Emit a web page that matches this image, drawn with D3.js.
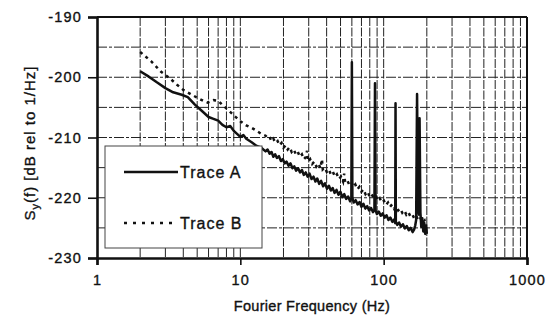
<!DOCTYPE html>
<html>
<head>
<meta charset="utf-8">
<script src="https://cdn.jsdelivr.net/npm/d3@7"></script>
<style>
  body { margin: 0; background: #fff; }
  svg text { font-family: "Liberation Sans", Arial, sans-serif; fill: #111; stroke: #111; stroke-width: 0.35px; }
</style>
</head>
<body>
<svg id="chart" width="555" height="326"></svg>
<script>
// tick labels
var xTicks = [1, 10, 100, 1000];
var yTicks = [-190, -200, -210, -220, -230];
var yGrid = [-195, -200, -205, -210, -215, -220, -225];
var seriesNames = ['Trace A', 'Trace B'];

// Trace A (solid) : frequency (Hz), level (dB)
var traceA = [
  [2.0, -199.0], [2.3, -199.9], [2.6, -200.8], [3.0, -201.8], [3.4, -202.5],
  [3.9, -202.9], [4.3, -203.3], [4.8, -204.5], [5.4, -205.6], [6.0, -206.6],
  [6.5, -206.9], [7.0, -207.2], [7.5, -207.9], [8.0, -208.3], [8.5, -208.1],
  [9.0, -208.9], [10.0, -209.9], [10.5, -209.6], [11.0, -210.2], [12.0, -210.8],
  [13.0, -211.4], [14.0, -211.7], [15.0, -212.3], [15.5, -212.0], [16.0, -212.7],
  [16.5, -212.4], [17.0, -213.2], [17.5, -212.8], [18.0, -213.4], [18.6, -213.1],
  [19.2, -213.9], [19.8, -213.6], [20.4, -214.3], [21.0, -214.0], [21.7, -214.7],
  [22.4, -214.3], [23.1, -215.1], [23.8, -214.8], [24.5, -215.5], [25.3, -215.1],
  [26.1, -215.8], [26.9, -215.4], [27.7, -216.2], [28.6, -215.8], [29.5, -216.5],
  [30.4, -216.0], [31.4, -216.9], [32.4, -216.5], [33.4, -217.3], [34.4, -216.8],
  [35.5, -217.7], [36.6, -217.2], [37.8, -218.1], [39.0, -217.6], [40.2, -218.5],
  [41.5, -218.0], [42.8, -218.8], [44.1, -218.4], [45.5, -219.2], [46.9, -218.7],
  [48.4, -219.5], [49.9, -219.0], [51.5, -219.9], [53.1, -219.4], [54.8, -220.2],
  [56.5, -219.8], [58.3, -220.6], [59.5, -220.1], [60.0, -197.5], [60.5, -220.0],
  [61.9, -220.8], [63.8, -220.4], [65.8, -221.1], [67.9, -220.7], [70.0, -221.5],
  [72.2, -221.0], [74.5, -221.8], [76.8, -221.4], [79.2, -222.1], [81.7, -221.7],
  [84.3, -222.4], [86.2, -222.0], [87.0, -201.0], [87.8, -222.1], [89.7, -222.7],
  [92.5, -222.3], [95.4, -223.0], [98.4, -222.6], [101.5, -223.3], [104.7, -222.9],
  [108.0, -223.7], [111.4, -223.3], [114.9, -224.0], [118.5, -223.6], [120.4, -224.2],
  [121.0, -204.3], [121.6, -224.0], [124.2, -224.5], [128.1, -224.1], [132.1, -224.8],
  [136.3, -224.4], [140.6, -225.1], [145.0, -224.7], [149.6, -225.4], [154.3, -225.0],
  [159.2, -225.7], [163.0, -225.3], [166.0, -224.6], [168.5, -223.7], [171.0, -202.8],
  [173.5, -221.5], [176.0, -222.8], [178.0, -206.8], [180.5, -222.5], [183.0, -224.8],
  [186.0, -223.4], [189.0, -225.6], [192.0, -224.2], [195.0, -226.0], [198.0, -224.6],
  [200.0, -226.0]
];

// Trace B (dotted) : frequency (Hz), level (dB)
var traceB = [
  [2.0, -195.8], [2.4, -197.4], [2.8, -199.1], [3.2, -200.1], [3.6, -201.2],
  [4.0, -202.1], [4.5, -202.8], [5.0, -203.4], [5.5, -203.9], [5.9, -204.2],
  [6.5, -203.8], [7.0, -203.9], [7.5, -204.6], [8.2, -205.4], [9.0, -206.3],
  [10.0, -207.3], [11.0, -208.0], [12.0, -208.4], [13.0, -208.9], [14.0, -209.4],
  [15.0, -209.7], [15.5, -210.1], [16.0, -209.9], [16.5, -210.6], [17.0, -210.2],
  [17.6, -210.9], [18.2, -210.6], [18.8, -211.3], [19.4, -210.9], [20.0, -211.7],
  [20.7, -211.3], [21.4, -212.0], [22.1, -211.6], [22.8, -212.4], [23.6, -212.0],
  [24.4, -212.8], [25.2, -212.4], [26.0, -213.2], [26.9, -212.8], [27.8, -213.6],
  [28.7, -213.2], [29.2, -212.2], [29.7, -214.0], [30.7, -213.6], [31.7, -214.4],
  [32.8, -214.0], [33.9, -214.8], [35.0, -214.3], [36.2, -215.1], [37.1, -213.6],
  [37.6, -215.3], [38.8, -215.0], [40.1, -215.7], [41.4, -215.3], [42.8, -216.1],
  [44.2, -215.7], [45.7, -216.5], [47.2, -216.1], [48.8, -216.9], [50.4, -216.5],
  [52.1, -217.3], [53.0, -216.0], [53.8, -217.4], [55.6, -217.1], [57.5, -217.8],
  [59.4, -217.4], [61.4, -218.2], [63.4, -217.8], [65.5, -218.6], [67.7, -218.2],
  [70.0, -219.0], [72.3, -218.6], [74.7, -219.4], [77.2, -219.0], [79.8, -219.8],
  [82.5, -219.4], [85.3, -220.1], [88.1, -219.8], [91.0, -220.5], [94.0, -220.1],
  [97.2, -220.8], [100.4, -220.5], [103.7, -221.2], [107.2, -220.8], [110.8, -221.5],
  [114.5, -221.1], [118.3, -221.8], [122.2, -221.4], [126.3, -222.1], [130.5, -221.8],
  [134.8, -222.5], [139.3, -222.1], [143.9, -222.8], [148.7, -222.4], [153.6, -223.1],
  [158.7, -222.8], [164.0, -223.5], [169.5, -223.1], [175.1, -223.8], [180.9, -223.4],
  [186.9, -224.2], [193.1, -223.8], [198.0, -224.6]
];

var svg = d3.select('#chart');
var margin = { left: 97, right: 28, top: 17, bottom: 68 };
var width = 555 - margin.left - margin.right;
var height = 326 - margin.top - margin.bottom;

var x = d3.scaleLog().domain([1, 1000]).range([0, width]);
var y = d3.scaleLinear().domain([-230, -190]).range([height, 0]);

var g = svg.append('g').attr('transform', 'translate(' + margin.left + ',' + margin.top + ')');

// vertical grid, log minor positions
g.append('g').attr('class', 'grid-x')
  .selectAll('line')
  .data(x.ticks().filter(function(d) { return d > 1 && d < 1000; }))
  .enter().append('line')
  .attr('x1', function(d) { return x(d); })
  .attr('x2', function(d) { return x(d); })
  .attr('y1', 0).attr('y2', height)
  .attr('stroke', '#222').attr('stroke-width', 1)
  .attr('stroke-dasharray', '9,1.5');

// horizontal grid every 5 dB
g.append('g').attr('class', 'grid-y')
  .selectAll('line')
  .data(yGrid)
  .enter().append('line')
  .attr('x1', 0).attr('x2', width)
  .attr('y1', function(d) { return y(d); })
  .attr('y2', function(d) { return y(d); })
  .attr('stroke', '#222').attr('stroke-width', 1)
  .attr('stroke-dasharray', '10,2,3,2');

var line = d3.line()
  .x(function(d) { return x(d[0]); })
  .y(function(d) { return y(d[1]); });

g.append('path').datum(traceB)
  .attr('d', line)
  .attr('fill', 'none').attr('stroke', '#111')
  .attr('stroke-width', 2.5)
  .attr('stroke-dasharray', '3,4');

g.append('path').datum(traceA)
  .attr('d', line)
  .attr('fill', 'none').attr('stroke', '#111')
  .attr('stroke-width', 2.5)
  .attr('stroke-linejoin', 'round');

// frame
g.append('line').attr('x1', 0).attr('x2', width).attr('y1', 0).attr('y2', 0)
  .attr('stroke', '#111').attr('stroke-width', 2);
g.append('line').attr('x1', width).attr('x2', width).attr('y1', 0).attr('y2', height)
  .attr('stroke', '#111').attr('stroke-width', 2);

// axes
var xAxis = g.append('g')
  .attr('transform', 'translate(0,' + height + ')')
  .call(d3.axisBottom(x).tickValues(xTicks).tickFormat(function(d) { return String(d); }).tickSize(7).tickPadding(10));
var yAxis = g.append('g')
  .call(d3.axisLeft(y).tickValues(yTicks).tickFormat(function(d) { return String(d); }).tickSize(9).tickPadding(6));

[xAxis, yAxis].forEach(function(a) {
  a.select('.domain').attr('stroke', '#111').attr('stroke-width', 2.6);
  a.selectAll('.tick line').attr('stroke', '#111').attr('stroke-width', 1.6);
  a.selectAll('.tick text')
    .style('font-family', '"Liberation Sans", Arial, sans-serif')
    .style('font-size', '14.5px')
    .style('letter-spacing', '1.2px')
    .attr('fill', '#111');
});

// legend
var legend = g.append('g').attr('transform', 'translate(8,129)');
legend.append('rect')
  .attr('width', 157).attr('height', 102)
  .attr('fill', '#fff').attr('stroke', '#444').attr('stroke-width', 1);

var legendItems = legend.selectAll('.graph-legend')
  .data(seriesNames)
  .enter().append('g')
  .attr('class', 'graph-legend')
  .attr('transform', function(d, i) { return 'translate(0,' + (26 + i * 51) + ')'; });

legendItems.append('line')
  .attr('x1', 19).attr('x2', 73)
  .attr('y1', 0).attr('y2', 0)
  .attr('stroke', '#111').attr('stroke-width', 2.4)
  .attr('stroke-dasharray', function(d, i) { return i ? '3,6' : null; });

legendItems.append('text')
  .attr('x', 75).attr('y', 6)
  .style('font-size', '16px')
  .style('letter-spacing', '1px')
  .text(function(d) { return d; });

// axis titles
svg.append('text')
  .attr('x', 312).attr('y', 311)
  .attr('text-anchor', 'middle')
  .style('font-size', '14.5px')
  .style('letter-spacing', '0.3px')
  .text('Fourier Frequency (Hz)');

var yLabel = svg.append('text')
  .attr('transform', 'translate(35,143) rotate(-90)')
  .attr('text-anchor', 'middle')
  .style('font-size', '15px')
  .style('letter-spacing', '1px');
yLabel.append('tspan').text('S');
yLabel.append('tspan').attr('dy', 4).style('font-size', '11px').text('y');
yLabel.append('tspan').attr('dy', -4).text('(f) [dB rel to 1/Hz]');
</script>
</body>
</html>
